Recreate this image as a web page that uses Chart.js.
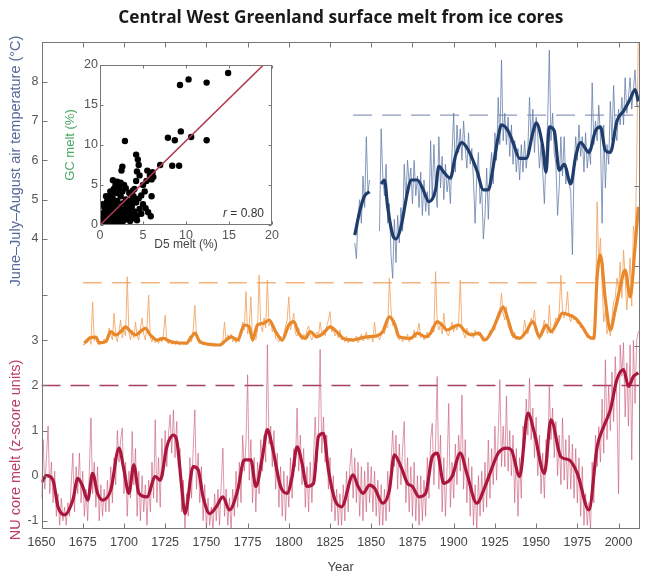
<!DOCTYPE html>
<html>
<head>
<meta charset="utf-8">
<title>Central West Greenland surface melt from ice cores</title>
<script src="https://cdn.jsdelivr.net/npm/chart.js@4.4.1/dist/chart.umd.min.js"></script>
<style>
  html, body { margin: 0; padding: 0; background: #fff; }
  #wrap { position: relative; width: 646px; height: 582px; }
  #main { position: absolute; left: 0; top: 0; }
  #inset { position: absolute; left: 55px; top: 52px; }
</style>
</head>
<body>
<div id="wrap">
  <canvas id="main" width="646" height="582"></canvas>
  <canvas id="inset" width="230" height="200"></canvas>
</div>
<script>
// ---- axis ticks ----
const yearTicks = [1650, 1675, 1700, 1725, 1750, 1775, 1800, 1825, 1850, 1875, 1900, 1925, 1950, 1975, 2000];
const tempTicks = [4, 5, 6, 7, 8];
const meltTicks = [-1, 0, 1, 2, 3, 4];
const gcTicks = [0, 20, 40, 60];
const insetTicks = [0, 5, 10, 15, 20];

// ---- June-July-August air temperature (°C), annual from 1840 ----
const tempFirstYear = 1840;
const tempAnnual = [
  3.9, 3.5, 4.6, 5.0, 4.4, 5.6, 4.8, 6.6, 5.2, 5.5,
  null, null, null, null, null, 4.2, 6.8, 5.6, 5.1, 5.9,
  4.4, 4.9, 3.6, 3.0, 4.5, 3.4, 4.6, 3.9, 4.8, 4.2,
  5.9, 5.0, 6.0, 5.4, 5.8, 4.9, 6.0, 5.1, 5.6, 4.8,
  5.7, 4.6, 5.5, 4.7, 5.2, 4.6, 6.5, 5.0, 6.4, 5.3,
  4.8, 6.6, 5.3, 6.1, 5.0, 5.9, 5.2, 5.6, 4.9, 6.2,
  7.2, 5.7, 6.9, 6.2, 6.8, 6.0, 7.0, 6.3, 5.8, 6.7,
  5.9, 6.3, 5.5, 4.4, 5.6, 6.2, 4.9, 5.3, 4.0, 4.6,
  5.8, 4.5, 5.7, 6.2, 5.4, 6.7, 6.0, 7.6, 6.4, 8.55,
  6.5, 7.2, 6.4, 7.1, 6.1, 6.9, 5.9, 6.5, 5.7, 6.3,
  5.5, 6.4, 5.7, 6.5, 5.8, 6.3, 7.6, 6.4, 7.3, 6.2,
  7.1, 6.6, 5.8, 6.4, 5.7, 4.9, 6.1, 7.0, 8.8, 6.5,
  7.2, 6.2, 5.9, 4.6, 5.3, 6.6, 5.6, 6.6, 5.4, 5.8,
  5.4, 5.2, 3.6, 5.8, 6.6, 6.0, 6.9, 6.1, 6.6, 5.7,
  6.7, 5.8, 6.3, 5.9, 7.97, 6.4, 7.0, 6.5, 7.4, 6.6,
  4.4, 6.9, 5.3, 6.4, 5.9, 7.5, 6.5, 7.9, 6.8, 6.5,
  7.3, 6.9, 7.6, 6.9, 8.1, 7.2, 7.6, 8.1, 7.3, 7.8,
  8.3, 7.4, 7.4
];
const tempSmoothYears = [1840, 1843, 1846, 1849, 1852, 1856, 1858, 1860, 1863, 1865, 1868, 1872, 1874, 1878, 1881,
  1885, 1889, 1891, 1894, 1898, 1901, 1905, 1909, 1914, 1918, 1921, 1924, 1927, 1929, 1933, 1936, 1940, 1944, 1948,
  1950, 1954, 1956, 1958, 1961, 1964, 1967, 1971, 1974, 1977, 1982, 1986, 1989, 1992, 1995, 1999, 2003, 2007, 2010, 2012];
const tempSmooth = [4.1, 4.7, 5.1, 5.2, null, 5.4, 5.5, 4.8, 4.1, 4.0, 4.3, 5.2, 5.5, 5.5, 5.3,
  4.95, 5.25, 5.85, 5.7, 5.55, 6.1, 6.45, 6.25, 5.75, 5.25, 5.25, 5.85, 6.6, 6.9, 6.75, 6.45, 6.05, 6.05, 6.7,
  6.95, 6.35, 5.7, 6.85, 6.75, 5.75, 5.9, 5.4, 6.1, 6.45, 6.2, 6.75, 6.85, 6.25, 6.2, 7.0, 7.25, 7.55, 7.8, 7.5];
const tempRef = 7.15;
const tempRefYears = [1839, 2013];

// ---- GC core melt (%), annual from 1675 ----
const gcFirstYear = 1675;
const gcAnnual = [
  0.5, 0.2, 1.5, 0.8, 2.5,
  0.4, 11, 1.2, 2.5, 0.6, 0.3, 1.1, 0.5, 1.8, 0.9,
  2.0, 4.5, 3.0, 1.5, 8.2, 2.5, 1.0, 3.5, 6.5, 2.0,
  4.0, 2.5, 17.3, 3.5, 1.5, 4.0, 2.0, 6.0, 2.5, 1.5,
  4.5, 7.0, 3.0, 1.5, 5.0, 12.7, 2.0, 1.0, 2.5, 0.8,
  1.5, 0.6, 2.2, 1.0, 3.0, 7.7, 1.2, 0.5, 1.6, 0.4,
  0.8, 0.3, 1.4, 0.5, 0.2, 1.0, 0.4, 0.6, 0.3, 1.8,
  2.5, 1.0, 4.0, 10.2, 2.5, 1.2, 0.5, 0.8, 0.3, 1.0,
  0.4, 0.2, 0.6, 0.3, 0.1, 0.5, 0.2, 0.4, 0.1, 0.6,
  1.5, 6.0, 1.0, 2.8, 1.8, 3.0, 1.0, 1.6, 0.8, 2.0,
  1.0, 3.5, 6.0, 4.0, 13.6, 3.0, 5.0, 12.3, 1.0, 2.0,
  1.5, 4.0, 17.7, 5.0, 3.5, 7.0, 4.5, 16.5, 5.0, 6.5,
  3.5, 5.0, 2.0, 1.5, 1.0, 2.5, 1.0, 3.0, 5.0, 6.5,
  12.3, 4.0, 6.0, 8.2, 3.0, 2.5, 4.5, 2.0, 1.5, 3.0,
  2.0, 4.0, 5.0, 2.5, 1.5, 3.0, 2.0, 3.5, 2.5, 6.0,
  3.0, 4.0, 2.5, 5.0, 6.5, 8.6, 3.5, 4.0, 2.5, 3.5,
  2.0, 4.0, 1.5, 2.0, 1.0, 2.5, 0.8, 1.5, 2.0, 1.0,
  1.5, 2.5, 0.8, 1.5, 3.0, 1.2, 2.0, 3.5, 1.5, 2.0,
  2.5, 1.0, 6.0, 2.0, 3.0, 1.5, 2.5, 4.0, 3.0, 5.0,
  4.5, 17.0, 9.0, 5.0, 6.5, 3.0, 2.0, 1.5, 2.5, 1.0,
  2.0, 1.5, 3.0, 1.0, 2.5, 1.8, 4.0, 2.0, 3.5, 5.7,
  2.0, 3.0, 1.5, 2.5, 3.5, 2.0, 4.0, 5.0, 3.5, 18.6,
  6.0, 4.0, 5.5, 3.0, 8.2, 4.0, 3.0, 2.5, 4.5, 6.0,
  3.5, 5.5, 4.0, 6.0, 16.5, 4.5, 3.0, 2.0, 4.5, 3.0,
  2.5, 3.5, 2.0, 4.0, 3.0, 2.5, 3.5, 1.5, 1.0, 2.0,
  1.5, 2.5, 4.0, 3.5, 5.0, 4.0, 7.0, 8.5, 9.0, 13.2,
  8.0, 6.5, 9.8, 5.0, 4.0, 3.0, 2.0, 3.5, 1.5, 2.5,
  1.5, 2.5, 3.0, 6.5, 4.0, 3.0, 5.0, 7.0, 6.0, 9.0,
  4.0, 2.5, 1.5, 3.5, 4.5, 6.5, 4.0, 3.0, 10.2, 4.0,
  3.0, 5.5, 7.0, 6.0, 8.5, 17.7, 9.0, 7.0, 8.5, 13.6,
  7.5, 6.0, 8.0, 6.5, 7.0, 5.5, 6.0, 4.5, 5.0, 3.5,
  3.0, 2.0, 2.5, 1.5, 2.0, 3.0, 8.0, 36.0, 20.0, 27.0,
  15.0, 6.0, 9.0, 3.0, 5.0, 2.5, 7.0, 11.0, 12.0, 17.0,
  14.0, 21.0, 12.0, 24.0, 17.0, 9.0, 15.0, 22.0, 10.0, 30.0,
  26.0, 45.0, 80.0
];
const gcSmoothYears = [1676, 1679, 1683, 1685, 1689, 1692, 1695, 1699, 1701, 1704, 1707, 1710, 1713, 1716, 1720,
  1724, 1728, 1732, 1738, 1741, 1743, 1746, 1752, 1758, 1762, 1765, 1769, 1773, 1776, 1778, 1781, 1785, 1788, 1792,
  1796, 1800, 1803, 1806, 1810, 1813, 1817, 1821, 1825, 1829, 1833, 1839, 1847, 1853, 1857, 1861, 1864, 1867, 1874,
  1878, 1883, 1886, 1890, 1893, 1896, 1900, 1903, 1907, 1911, 1915, 1919, 1923, 1927, 1930, 1933, 1936, 1940, 1944,
  1948, 1952, 1956, 1959, 1963, 1966, 1970, 1974, 1978, 1982, 1985, 1987, 1989, 1992, 1995, 1998, 2001, 2004, 2007,
  2010, 2012];
const gcSmooth = [0.7, 1.9, 2.2, 0.8, 1.1, 3.6, 2.75, 4.0, 4.8, 3.6, 2.75, 3.6, 4.4, 2.75, 1.5,
  1.9, 1.1, 0.8, 0.7, 2.3, 3.2, 1.1, 0.4, 0.25, 1.5, 2.3, 1.5, 5.25, 4.8, 1.5, 5.25, 5.7, 6.5, 3.6,
  1.5, 5.25, 6.1, 3.2, 1.9, 3.6, 2.3, 3.2, 4.8, 3.6, 1.9, 1.5, 2.3, 2.5, 3.6, 7.3, 5.7, 2.3, 1.9,
  3.2, 2.3, 3.2, 6.1, 5.25, 4.0, 4.8, 5.25, 3.6, 2.75, 3.2, 1.5, 3.6, 7.3, 9.8, 6.5, 2.75, 1.9, 3.6,
  6.1, 2.3, 5.25, 3.6, 6.1, 8.2, 7.75, 6.9, 4.8, 2.3, 1.9, 17.2, 22.75, 11.5, 4.0, 9.0, 14.75, 19.0, 12.25,
  24.75, 34.75];
const gcRef = 15.8;
const gcRefYears = [1675, 2013];

// ---- NU core melt (z-score units), annual from 1650 ----
const nuFirstYear = 1650;
const nuAnnual = [
  -0.5, 0.8, -0.3, 0.4, 1.1, -0.4, 0.3, -0.6, 0.1, -0.9,
  -0.4, -1.1, -0.5, -1.0, -0.7, -1.1, -0.6, -0.9, -0.2, 0.5,
  -0.8, 0.2, -0.4, 0.5, -0.6, 0.1, -0.9, -0.3, -1.0, 0.1,
  1.28, -0.4, 0.3, -0.7, 0.2, -1.0, -0.2, -0.9, -0.3, -0.8,
  -0.1, -0.8, 0.2, -0.6, 0.4, -0.2, 1.0, 0.3, 0.8, 1.06,
  -0.4, 0.3, -0.9, 0.1, -0.5, 0.98, -0.2, 0.6, -0.9, 0.1,
  -1.0, 0.0, -0.8, -0.2, -1.1, -0.1, -0.8, 0.3, -0.5, 1.24,
  -0.6, 0.4, -0.7, 0.83, 0.0, 1.0, 0.2, 0.9, 1.35, 0.5,
  1.46, 0.4, 1.2, 0.2, 0.6, -0.8, -0.1, -1.2, -0.4, -0.9,
  0.4, -0.5, 0.6, 1.46, -0.3, 0.5, -0.6, 0.2, -1.0, -0.2,
  -1.2, -0.5, -1.1, -0.7, -1.2, -0.4, -1.0, -0.3, -1.1, -0.2,
  0.61, -0.9, -0.3, -1.1, -0.5, -1.2, -0.3, -0.9, 0.1, -0.7,
  0.3, -0.6, 0.9, 0.1, 0.7, 2.24, -0.1, 0.8, -0.6, 0.4,
  -0.8, 0.3, -0.4, 0.8, 0.1, 0.9, 0.3, 2.9, 0.7, 1.1,
  0.2, 1.0, -0.3, 0.5, -0.7, 0.2, -0.9, 0.1, -1.0, 0.0,
  -0.7, 0.4, -0.5, 0.6, 0.2, 1.5, 0.1, 0.9, -0.2, 0.6,
  -0.7, 0.2, -0.8, 0.3, -0.6, 0.4, 1.3, 0.3, 1.0, 2.8,
  0.5, 1.3, 0.3, 0.9, -0.3, 0.4, -0.8, 0.0, -1.0, -0.3,
  -1.1, -0.4, -1.1, -0.2, -1.0, 0.1, -0.8, 0.2, 0.6, -0.5,
  0.4, -0.6, 0.3, -0.9, 0.2, -1.0, 0.1, -0.8, 0.3, -0.6,
  0.2, -0.8, 0.1, -0.9, -0.1, -1.1, -0.2, -1.1, -0.3, -1.0,
  0.1, -0.8, 0.3, 1.0, 0.2, 0.9, -0.3, 0.7, -0.2, 0.6,
  1.2, -0.6, 0.4, -0.8, 0.2, -0.9, 0.3, -1.0, 0.0, -1.1,
  0.0, -1.0, -0.1, -0.9, 0.4, -0.5, 0.8, 1.16, -0.2, 0.7,
  2.2, -0.3, 0.9, -0.8, 0.4, -0.9, 0.2, 1.6, -0.7, 0.3,
  -0.5, 0.7, -0.2, 0.9, 0.1, 1.79, -0.3, 0.8, -0.6, 0.4,
  -0.9, 0.2, -1.1, -0.2, -1.2, 0.0, -0.9, 0.1, -0.8, 0.3,
  -0.7, 0.79, -0.5, 0.6, -0.2, 1.1, -0.1, 0.9, 2.13, 0.2,
  1.1, 0.2, 1.76, 0.1, 1.0, 0.0, 0.9, -0.6, 0.6, -0.9,
  0.4, -0.5, 1.1, 0.6, 1.7, 0.9, 2.16, 0.8, 1.5, 0.4,
  1.3, 0.0, 0.9, -0.4, 0.5, -0.5, 0.8, 0.3, 1.98, 0.8,
  1.5, 0.4, 1.2, 0.0, 0.9, -0.2, 1.28, -0.1, 0.8, -0.3,
  0.9, -0.3, 0.7, -0.5, 0.6, -0.6, 0.4, -0.9, 0.2, -1.1,
  -0.4, -1.1, -0.6, -1.2, 0.3, -0.6, 0.9, 0.2, 1.09, 0.3,
  1.7, 0.5, 2.57, 0.8, 2.0, 1.0, 2.3, 1.2, 2.64, 1.6,
  -0.4, 2.9, 2.2, 2.95, 1.3, 2.5, 1.1, 2.9, 0.35, 3.0,
  1.6, 3.0, 3.2
];
const nuSmoothYears = [1650, 1653, 1657, 1660, 1664, 1669, 1672, 1675, 1678, 1681, 1684, 1687, 1692, 1697, 1700,
  1703, 1706, 1709, 1714, 1719, 1722, 1726, 1730, 1732, 1735, 1737, 1742, 1745, 1748, 1752, 1756, 1760, 1764, 1769,
  1773, 1777, 1780, 1784, 1787, 1790, 1795, 1799, 1802, 1805, 1808, 1811, 1815, 1818, 1821, 1824, 1828, 1832, 1839,
  1842, 1845, 1849, 1852, 1857, 1861, 1864, 1868, 1872, 1875, 1879, 1883, 1887, 1890, 1894, 1899, 1904, 1908, 1914,
  1919, 1922, 1927, 1932, 1935, 1940, 1945, 1949, 1955, 1959, 1965, 1970, 1975, 1982, 1987, 1991, 1995, 1999, 2003,
  2006, 2009, 2012];
const nuSmooth = [-0.15, 0.0, -0.1, -0.69, -0.87, -0.54, -0.06, -0.24, -0.54, 0.05, -0.39, -0.54, -0.32, 0.61, 0.13,
  -0.39, 0.24, -0.39, -0.47, -0.02, -0.1, 0.64, 0.9, 0.79, -0.24, -0.84, 0.2, 0.13, -0.47, -0.84, -0.69, -0.47, -0.76, -0.32,
  0.35, 0.35, -0.24, 0.42, 1.02, 0.64, -0.24, -0.39, -0.02, 0.64, 0.28, -0.24, -0.17, 0.87, 0.94, 0.13, -0.54, -0.69, 0.02,
  -0.24, -0.39, -0.21, -0.28, -0.61, -0.32, 0.46, 0.2, -0.17, -0.24, -0.47, -0.39, 0.42, 0.5, -0.17, -0.02, 0.5, 0.05, -0.61,
  -0.24, 0.05, 0.5, 0.61, 0.57, -0.02, 1.39, 0.94, 0.05, 1.24, 0.42, 0.35, 0.05, -0.76, 0.64, 1.09, 1.46, 2.13, 2.35,
  1.98, 2.2, 2.28];
const nuRef = 2.0;
const nuRefYears = [1650, 2013];

// ---- inset: D5 melt vs GC melt (%) ----
const d5Melt = [
  0.1, 0.2, 0.2, 0.3, 0.3, 0.4, 0.4, 0.5, 0.5, 0.5,
  0.6, 0.6, 0.7, 0.7, 0.8, 0.8, 0.9, 0.9, 0.9, 1.0,
  1.0, 1.0, 1.1, 1.1, 1.1, 1.2, 1.2, 1.2, 1.3, 1.3,
  1.3, 1.4, 1.4, 1.4, 1.5, 1.5, 1.5, 1.6, 1.6, 1.6,
  1.7, 1.7, 1.8, 1.8, 1.9, 1.9, 1.9, 2.0, 2.0, 2.0,
  2.1, 2.2, 2.2, 2.2, 2.3, 2.3, 2.4, 2.4, 2.4, 2.5,
  2.5, 2.6, 2.6, 2.6, 2.6, 2.7, 2.8, 2.8, 2.9, 2.9,
  2.9, 3.0, 3.0, 3.1, 3.1, 3.2, 3.3, 3.3, 3.4, 3.4,
  3.5, 3.5, 3.6, 3.6, 3.6, 3.7, 3.8, 3.8, 3.9, 3.9,
  4.0, 4.0, 4.0, 4.1, 4.2, 4.2, 4.2, 4.3, 4.3, 4.3,
  4.4, 4.5, 4.5, 4.6, 4.6, 4.8, 4.8, 5.0, 5.0, 5.2,
  5.3, 5.4, 5.5, 5.6, 5.8, 5.9, 6.0, 6.0, 6.1, 6.2,
  7.0, 7.9, 8.4, 8.7, 9.2, 9.3, 9.4, 10.3, 10.6, 12.4,
  12.4, 14.9
];
const gcMelt = [
  0.1, 0.3, 0.8, 1.0, 2.6, 0.2, 1.5, 0.6, 1.0, 2.2,
  1.2, 1.8, 0.2, 3.6, 1.2, 2.9, 0.5, 1.7, 3.3, 0.3,
  0.9, 2.1, 1.5, 1.9, 2.5, 0.3, 2.8, 4.2, 0.6, 1.1,
  3.9, 0.7, 2.2, 3.4, 1.9, 3.3, 5.6, 0.4, 2.9, 4.5,
  0.9, 1.4, 2.4, 5.0, 0.8, 1.2, 4.0, 1.7, 3.0, 5.4,
  0.5, 1.0, 2.2, 4.8, 1.2, 4.4, 1.9, 3.6, 5.3, 0.9,
  6.8, 0.4, 2.7, 4.2, 7.3, 1.6, 0.6, 5.0, 1.4, 2.0,
  10.5, 3.2, 4.6, 1.1, 2.2, 2.5, 0.8, 2.9, 1.8, 4.0,
  0.5, 3.0, 1.3, 2.5, 3.8, 2.3, 0.9, 4.3, 1.5, 3.6,
  1.7, 3.1, 4.5, 0.8, 2.8, 5.5, 8.8, 0.6, 1.2, 6.7,
  8.2, 3.3, 7.5, 2.0, 6.2, 1.4, 3.7, 2.6, 5.0, 4.2,
  2.1, 5.5, 6.8, 1.6, 6.2, 1.1, 3.6, 5.7, 6.6, 6.0,
  7.5, 10.9, 7.4, 10.6, 7.4, 17.5, 11.7, 18.2, 11.0, 10.6,
  17.8, 19.0
];
const fitD5 = [0, 19];
const fitGC = [0, 20];
const rValue = '0.80';

// ---- helpers ----
const annualPoints = (first, values) => values.map((v, i) => ({ x: first + i, y: v }));
const pairPoints = (xs, ys) => xs.map((x, i) => ({ x, y: ys[i] }));
const refLine = (years, v) => years.map(x => ({ x, y: v }));
const fixedTicks = list => scale => { scale.ticks = list.map(v => ({ value: v })); };
const plain = v => String(v);

Chart.defaults.font.family = "'Liberation Sans', Arial, Helvetica, sans-serif";
Chart.defaults.color = '#555';

// box around the plot area plus short inward tick marks on every side
const frameTicks = {
  id: 'frameTicks',
  afterDraw(chart, args, opts) {
    const { ctx, chartArea: a } = chart;
    const L = Math.round(a.left) + 0.5, R = Math.round(a.right) - 0.5;
    const T = Math.round(a.top) + 0.5, B = Math.round(a.bottom) - 0.5;
    ctx.save();
    ctx.strokeStyle = opts.color;
    ctx.lineWidth = 1;
    ctx.strokeRect(L, T, R - L, B - T);
    ctx.beginPath();
    for (const m of opts.marks) {
      const s = chart.scales[m.scale];
      for (const v of m.values) {
        const p = Math.round(s.getPixelForValue(v)) + 0.5;
        for (const edge of m.edges) {
          if (edge === 'bottom') { ctx.moveTo(p, B); ctx.lineTo(p, B - opts.len); }
          if (edge === 'top') { ctx.moveTo(p, T); ctx.lineTo(p, T + opts.len); }
          if (edge === 'left') { ctx.moveTo(L, p); ctx.lineTo(L + opts.len, p); }
          if (edge === 'right') { ctx.moveTo(R, p); ctx.lineTo(R - opts.len, p); }
        }
      }
    }
    ctx.stroke();
    ctx.restore();
  }
};

// rotated axis titles on the left side of the main plot
const sideTitles = {
  id: 'sideTitles',
  afterDraw(chart, args, opts) {
    const { ctx } = chart;
    ctx.save();
    ctx.font = opts.font;
    ctx.textAlign = 'center';
    ctx.textBaseline = 'middle';
    for (const t of opts.items) {
      ctx.save();
      ctx.translate(t.x, t.y);
      ctx.rotate(-Math.PI / 2);
      ctx.fillStyle = t.color;
      ctx.fillText(t.text, 0, 0);
      ctx.restore();
    }
    ctx.restore();
  }
};

// "r = 0.80" in the lower right corner of the inset
const corrLabel = {
  id: 'corrLabel',
  afterDraw(chart, args, opts) {
    const { ctx, chartArea: a } = chart;
    const rest = ' = ' + opts.value;
    ctx.save();
    ctx.fillStyle = '#333';
    ctx.textBaseline = 'alphabetic';
    ctx.font = '12px ' + Chart.defaults.font.family;
    const wRest = ctx.measureText(rest).width;
    const x = a.right - 8, y = a.bottom - 8;
    ctx.textAlign = 'right';
    ctx.fillText(rest, x, y);
    ctx.font = 'italic 12px ' + Chart.defaults.font.family;
    ctx.fillText('r', x - wRest, y);
    ctx.restore();
  }
};

const thin = (data, axis, color, order) => ({
  data, yAxisID: axis, borderColor: color, borderWidth: 1, pointRadius: 0, tension: 0, order
});
const thick = (data, axis, color, order) => ({
  data, yAxisID: axis, borderColor: color, borderWidth: 3.2, pointRadius: 0,
  cubicInterpolationMode: 'monotone', order
});
const dashed = (data, axis, color, order) => ({
  data, yAxisID: axis, borderColor: color, borderWidth: 1.4, borderDash: [19, 10], pointRadius: 0, order
});

const hiddenGrid = { display: false, drawTicks: false };

new Chart(document.getElementById('main'), {
  type: 'line',
  data: {
    datasets: [
      thick(pairPoints(tempSmoothYears, tempSmooth), 'yT', '#1f3d6c', 0),
      thick(pairPoints(gcSmoothYears, gcSmooth), 'yG', '#e8882a', 1),
      thick(pairPoints(nuSmoothYears, nuSmooth), 'yM', '#ab163d', 2),
      thin(annualPoints(tempFirstYear, tempAnnual), 'yT', 'rgba(95,120,165,0.75)', 3),
      thin(annualPoints(gcFirstYear, gcAnnual), 'yG', 'rgba(242,165,100,0.85)', 4),
      thin(annualPoints(nuFirstYear, nuAnnual), 'yM', 'rgba(200,85,115,0.6)', 5),
      dashed(refLine(tempRefYears, tempRef), 'yT', '#8d9cbc', 6),
      dashed(refLine(gcRefYears, gcRef), 'yG', '#f2b47c', 7),
      dashed(refLine(nuRefYears, nuRef), 'yM', '#a3405e', 8)
    ]
  },
  options: {
    responsive: false,
    animation: false,
    events: [],
    layout: { padding: { right: 6 } },
    plugins: {
      legend: { display: false },
      tooltip: { enabled: false },
      title: {
        display: true,
        fullSize: false,
        text: 'Central West Greenland surface melt from ice cores',
        color: '#1a1a1a',
        font: { family: "'Open Sans', sans-serif", size: 17.3, weight: 'bold' },
        padding: { top: 8, bottom: 13.2 }
      },
      frameTicks: {
        color: '#777',
        len: 5,
        marks: [
          { scale: 'x', values: yearTicks, edges: ['bottom', 'top'] },
          { scale: 'yT', values: tempTicks, edges: ['left'] },
          { scale: 'yM', values: meltTicks, edges: ['left'] },
          { scale: 'yG', values: gcTicks, edges: ['right'] }
        ]
      },
      sideTitles: {
        font: "14.5px 'Liberation Sans', Arial, sans-serif",
        items: [
          { text: 'June\u2013July\u2013August air temperature (\u00b0C)', x: 16, y: 161, color: '#56679a' },
          { text: 'NU core melt (z-score units)', x: 16, y: 450, color: '#bb3d62' }
        ]
      }
    },
    scales: {
      x: {
        type: 'linear', min: 1650, max: 2013,
        afterBuildTicks: fixedTicks(yearTicks),
        afterFit: s => { s.height = 53; },
        grid: hiddenGrid, border: { display: false },
        ticks: { padding: 6, color: '#444', font: { size: 12.5 }, callback: plain },
        title: { display: true, text: 'Year', color: '#444', font: { size: 13 }, padding: { bottom: 7 } }
      },
      // the two left axes share one column: temperature on the upper part, NU melt below
      yT: {
        type: 'linear', position: 'left', stack: 'left', stackWeight: 248, weight: 1,
        min: 2.704, max: 9.009, clip: false,
        afterBuildTicks: fixedTicks(tempTicks),
        afterFit: s => { s.width = 41.5; },
        grid: hiddenGrid, border: { display: false },
        ticks: { padding: 3, color: '#555', font: { size: 12.5 }, callback: plain }
      },
      yM: {
        type: 'linear', position: 'left', stack: 'left', stackWeight: 239, weight: 0,
        min: -1.182, max: 4.117, clip: false,
        afterBuildTicks: fixedTicks(meltTicks),
        afterFit: s => { s.width = 41.5; },
        grid: hiddenGrid, border: { display: false },
        ticks: { padding: 3, color: '#555', font: { size: 12.5 }, callback: v => (v === 4 ? '' : String(v)) }
      },
      yG: {
        type: 'linear', position: 'right', display: false, min: -45.75, max: 76
      }
    }
  },
  plugins: [frameTicks, sideTitles]
});

new Chart(document.getElementById('inset'), {
  type: 'scatter',
  data: {
    datasets: [
      {
        type: 'line', data: pairPoints(fitD5, fitGC), borderColor: '#b03a52', borderWidth: 1.6,
        pointRadius: 0, order: 0
      },
      {
        data: pairPoints(d5Melt, gcMelt), backgroundColor: '#000', borderWidth: 0, pointRadius: 3.2, order: 1
      }
    ]
  },
  options: {
    responsive: false,
    animation: false,
    events: [],
    layout: { padding: { top: 13, right: 13 } },
    plugins: {
      legend: { display: false },
      tooltip: { enabled: false },
      frameTicks: {
        color: '#777',
        len: 3,
        marks: [
          { scale: 'x', values: insetTicks, edges: ['bottom', 'top'] },
          { scale: 'y', values: insetTicks, edges: ['left', 'right'] }
        ]
      },
      corrLabel: { value: rValue }
    },
    scales: {
      x: {
        type: 'linear', min: 0, max: 20,
        afterBuildTicks: fixedTicks(insetTicks),
        afterFit: s => { s.height = 27; },
        grid: hiddenGrid, border: { display: false },
        ticks: { padding: 3, color: '#555', font: { size: 12.5 }, callback: plain },
        title: { display: true, text: 'D5 melt (%)', color: '#444', font: { size: 12 }, padding: { top: 0, bottom: 0 } }
      },
      y: {
        type: 'linear', min: 0, max: 20,
        afterBuildTicks: fixedTicks(insetTicks),
        afterFit: s => { s.width = 45; },
        grid: hiddenGrid, border: { display: false },
        ticks: { padding: 2, color: '#555', font: { size: 12.5 }, callback: plain },
        title: { display: true, text: 'GC melt (%)', color: '#4ea866', font: { size: 13 }, padding: { top: 8, bottom: 0 } }
      }
    }
  },
  plugins: [frameTicks, corrLabel]
});
</script>
</body>
</html>
